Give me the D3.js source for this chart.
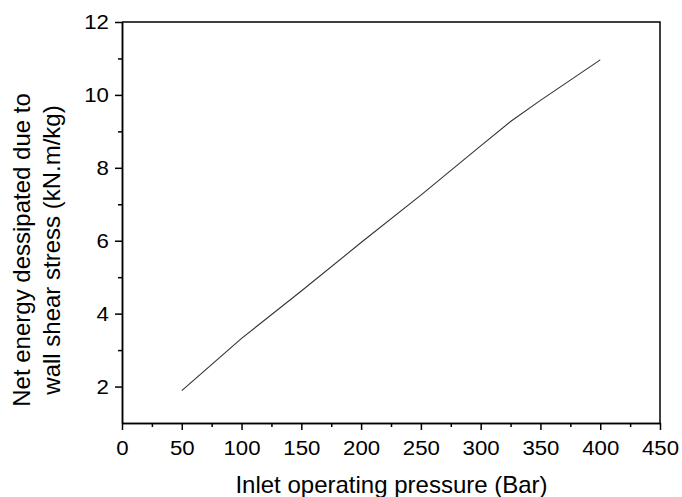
<!DOCTYPE html>
<html>
<head>
<meta charset="utf-8">
<script src="https://cdn.jsdelivr.net/npm/d3@7"></script>
<style>
  body { margin: 0; background: #fff; }
  svg { display: block; }
  .axis text { font-family: "Liberation Sans", Arial, sans-serif; font-size: 21px; fill: #000; }
  .axis path, .axis line { stroke: #000; stroke-width: 1.5; }
  .title { font-family: "Liberation Sans", Arial, sans-serif; font-size: 24px; fill: #000; }
</style>
</head>
<body>
<div id="chart"></div>
<script>
// data
var pressure = [50, 100, 150, 200, 250, 300, 325, 350, 400];
var energy = [1.89, 3.32, 4.62, 5.95, 7.25, 8.6, 9.27, 9.85, 10.96];

var xTicks = [0, 50, 100, 150, 200, 250, 300, 350, 400, 450];
var xMinor = [25, 75, 125, 175, 225, 275, 325, 375, 425];
var yTicks = [2, 4, 6, 8, 10, 12];
var yMinor = [3, 5, 7, 9, 11];

var xLabel = "Inlet operating pressure (Bar)";
var yLabel = ["Net energy dessipated due to", "wall shear stress (kN.m/kg)"];

var w = 682, h = 497;
var plotLeft = 122, plotRight = 660, plotTop = 22, plotBottom = 423;

var svg = d3.select("#chart").append("svg")
    .attr("width", w)
    .attr("height", h);

var xScale = d3.scaleLinear().domain([0, 450]).range([plotLeft, plotRight]);
var yScale = d3.scaleLinear().domain([1, 12]).range([plotBottom, plotTop]);

// frame (top and right sides)
svg.append("path")
    .attr("d", "M" + plotLeft + "," + plotTop + "H" + plotRight + "V" + plotBottom)
    .attr("fill", "none")
    .attr("stroke", "#000")
    .attr("stroke-width", 1.5);

// minor ticks
svg.append("g")
    .attr("class", "axis")
    .attr("transform", "translate(0," + plotBottom + ")")
    .call(d3.axisBottom(xScale).tickValues(xMinor).tickSize(4).tickSizeOuter(0).tickFormat(""));
svg.append("g")
    .attr("class", "axis")
    .attr("transform", "translate(" + plotLeft + ",0)")
    .call(d3.axisLeft(yScale).tickValues(yMinor).tickSize(4).tickSizeOuter(0).tickFormat(""));

// major axes
var xAxis = svg.append("g")
    .attr("class", "axis")
    .attr("transform", "translate(0," + plotBottom + ")")
    .call(d3.axisBottom(xScale).tickValues(xTicks).tickSize(7).tickSizeOuter(0).tickPadding(10));
var yAxis = svg.append("g")
    .attr("class", "axis")
    .attr("transform", "translate(" + plotLeft + ",0)")
    .call(d3.axisLeft(yScale).tickValues(yTicks).tickSize(7).tickSizeOuter(0).tickPadding(6));

// the source figure is a little stretched sideways
xAxis.selectAll(".tick text").attr("transform", "scale(1.06,1)");
yAxis.selectAll(".tick text").attr("transform", "scale(1.06,1)").attr("x", -12.3);

// the line
var line = d3.line()
    .x(function(d, i) { return xScale(pressure[i]); })
    .y(function(d) { return yScale(d); });

svg.append("path")
    .datum(energy)
    .attr("d", line)
    .attr("fill", "none")
    .attr("stroke", "#333")
    .attr("stroke-width", 1.1);

// titles
svg.append("text")
    .attr("class", "title")
    .attr("x", (235 + 548) / 2)
    .attr("y", 493)
    .attr("text-anchor", "middle")
    .text(xLabel);

svg.append("g")
    .attr("transform", "translate(0,250) rotate(-90)")
    .selectAll("text")
    .data(yLabel)
    .join("text")
    .attr("class", "title")
    .attr("text-anchor", "middle")
    .attr("x", 0)
    .attr("y", function(d, i) { return 30 + i * 30; })
    .text(function(d) { return d; });
</script>
</body>
</html>
